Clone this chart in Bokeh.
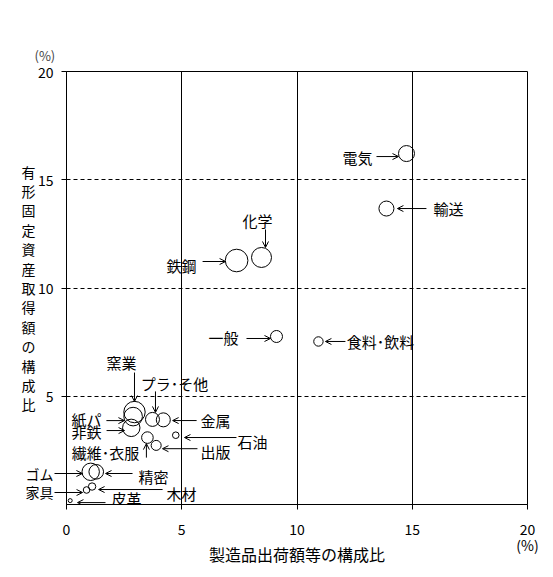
from bokeh.plotting import figure
from bokeh.models import ColumnDataSource, Label, Arrow, OpenHead, FixedTicker
from bokeh.embed import file_html
from bokeh.resources import INLINE

# ---- data ----
industries = ["電気", "輸送", "化学", "鉄鋼", "一般", "食料･飲料", "窯業", "プラ･そ他",
              "紙パ", "非鉄", "金属", "石油", "出版", "繊維･衣服", "ゴム", "精密",
              "木材", "家具", "皮革"]
shipment_share = [14.75, 13.88, 8.46, 7.38, 9.11, 10.93, 2.95, 3.73,
                  2.89, 2.81, 4.20, 4.74, 3.89, 3.51, 1.05, 1.29,
                  1.11, 0.87, 0.16]
capex_share = [16.21, 13.67, 11.41, 11.27, 7.76, 7.53, 4.27, 3.93,
               4.06, 3.54, 3.91, 3.20, 2.73, 3.09, 1.51, 1.51,
               0.83, 0.67, 0.18]
bubble = [8.0, 7.5, 10.0, 11.3, 6.0, 4.7, 10.7, 7.0,
          9.3, 8.7, 7.0, 3.3, 5.0, 5.8, 8.7, 7.3,
          3.7, 3.3, 2.0]
x_ticks = [0, 5, 10, 15, 20]
y_ticks = [5, 10, 15, 20]
x_title = "製造品出荷額等の構成比"
y_title = "有形固定資産取得額の構成比"
unit = "(%)"

# ---- annotation layout (screen px offsets from bubble centre, y downward) ----
# name: (label dx, label dy, arrow start dx, dy, arrow end dx, dy)
layout = {
    "電気": (-49, 4, -30, 3, -8, 3),
    "輸送": (62, 0, 40, 0, 11, 0),
    "化学": (-4, -37, 4, -28, 4, -10),
    "鉄鋼": (-55, 5, -34, 1, -11, 1),
    "一般": (-53, 1, -30, 2, -6, 2),
    "食料･飲料": (62, 0, 27, 0, 7, 0),
    "窯業": (-13, -49.5, 0, -39.5, 0, -10.5),
    "プラ･そ他": (22, -36, 3, -28, 3, -7),
    "紙パ": (-46.7, 3, -26.7, 4, -8.7, 4),
    "非鉄": (-44.7, 3.7, -24.7, 2.7, -6.7, 2.7),
    "金属": (52.3, 0.7, 33.3, 0.7, 9.3, 0.7),
    "石油": (76.7, 6.3, 60.7, 2.3, 8.7, 2.3),
    "出版": (59.3, 6.3, 41.3, 3.3, 6.3, 3.3),
    "繊維･衣服": (-42, 15, -1, 20, -1, 6),
    "ゴム": (-46.3, 1.7, -33.3, 1.7, -8.3, 1.7),
    "精密": (57.3, 4.7, 36.3, 1.7, 9.3, 1.7),
    "木材": (89.5, 7, 70.5, 3, 6.5, 3),
    "家具": (-41, 2.5, -25, 2.5, -4, 2.5),
    "皮革": (56.3, -2, 35.3, 2, 7.3, 2),
}

FONT = "Noto Sans CJK JP"
FW, FH = 461, 433
XMAX, YMAX = 20, 20
ppx = FW / XMAX
ppy = FH / YMAX

p = figure(frame_width=FW, frame_height=FH, x_range=(0, XMAX), y_range=(0, YMAX),
           min_border_left=66, min_border_right=20, min_border_top=71, min_border_bottom=63,
           output_backend="svg", toolbar_location=None, tools="")
p.background_fill_color = "white"
p.border_fill_color = "white"
p.outline_line_color = "black"
p.outline_line_width = 1

# title used as the y unit mark
p.title.text = unit
p.title.align = "left"
p.title.offset = -32
p.title.standoff = 14
p.title.text_font = FONT
p.title.text_font_size = "13px"
p.title.text_font_style = "normal"

# grid
p.xgrid.ticker = FixedTicker(ticks=[5, 10, 15])
p.xgrid.grid_line_color = "black"
p.xgrid.grid_line_width = 1
p.ygrid.ticker = FixedTicker(ticks=[5, 10, 15])
p.ygrid.grid_line_color = "black"
p.ygrid.grid_line_width = 1
p.ygrid.grid_line_dash = "4 3"

# labels that sit left of the plot area are rendered as y-axis tick labels
outside = {}
for name, cx, cy in zip(industries, shipment_share, capex_share):
    ldx, ldy, sdx, sdy, edx, edy = layout[name]
    if cx + ldx / ppx < 0:
        outside[round(cy - sdy / ppy, 4)] = name

yax = p.yaxis[0]
yax.ticker = FixedTicker(ticks=sorted(list(outside.keys()) + y_ticks),
                         minor_ticks=sorted(outside.keys()))
yax.major_label_overrides = outside
yax.minor_tick_line_color = "black"
yax.minor_tick_in = 0
yax.minor_tick_out = 12
yax.major_label_standoff = 1
yax.axis_label = "\n".join(y_title)
yax.axis_label_orientation = "horizontal"
yax.axis_label_text_font = FONT
yax.axis_label_text_font_size = "14px"
yax.axis_label_text_font_style = "normal"
yax.axis_label_text_line_height = 0.97
yax.axis_label_standoff = -13

xax = p.xaxis[0]
xax.ticker = FixedTicker(ticks=x_ticks)
xax.minor_tick_line_color = None
xax.major_label_overrides = {XMAX: f"{XMAX}\n{unit}"}
xax.major_label_text_line_height = 0.8
xax.major_label_standoff = 9
xax.axis_label = x_title
xax.axis_label_text_font = FONT
xax.axis_label_text_font_size = "16px"
xax.axis_label_text_font_style = "normal"
xax.axis_label_standoff = -16

for ax in (xax, yax):
    ax.axis_line_color = "black"
    ax.major_tick_line_color = "black"
    ax.major_tick_in = 0
    ax.major_tick_out = 5
    ax.major_label_text_font = FONT
    ax.major_label_text_font_size = "14px"
    ax.major_label_text_color = "black"
    ax.axis_label_text_color = "black"

src = ColumnDataSource(dict(x=shipment_share, y=capex_share,
                            size=[2 * b for b in bubble], name=industries))
p.scatter(x="x", y="y", size="size", source=src, marker="circle",
          fill_color=None, line_color="black", line_width=1)

for name, cx, cy in zip(industries, shipment_share, capex_share):
    ldx, ldy, sdx, sdy, edx, edy = layout[name]
    lx = cx + ldx / ppx
    if lx >= 0:
        p.add_layout(Label(x=lx, y=cy - ldy / ppy, text=name,
                           text_font=FONT, text_font_size="15px", text_color="black",
                           text_align="center", text_baseline="middle"))
    p.add_layout(Arrow(x_start=max(0, cx + sdx / ppx), y_start=cy - sdy / ppy,
                       x_end=cx + edx / ppx, y_end=cy - edy / ppy,
                       line_color="black", line_width=1,
                       end=OpenHead(size=6, line_color="black", line_width=1)))

open("out.html", "w").write(file_html(p, INLINE))
